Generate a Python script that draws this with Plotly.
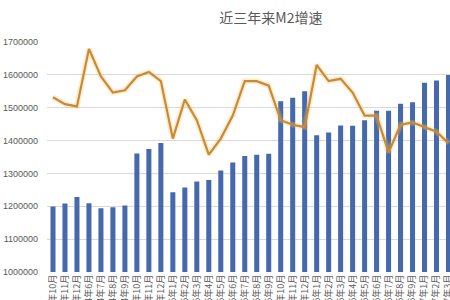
import plotly.graph_objects as go

months = ["2014年10月", "2014年11月", "2014年12月", "2014年6月", "2014年7月", "2014年8月", "2014年9月",
          "2015年10月", "2015年11月", "2015年12月", "2015年1月", "2015年2月", "2015年3月", "2015年4月",
          "2015年5月", "2015年6月", "2015年7月", "2015年8月", "2015年9月",
          "2016年10月", "2016年11月", "2016年12月", "2016年1月", "2016年2月", "2016年3月", "2016年4月",
          "2016年5月", "2016年6月", "2016年7月", "2016年8月", "2016年9月",
          "2017年1月", "2017年2月", "2017年3月"]

m2_balance = [1199200, 1208700, 1228400, 1209600, 1194100, 1197400, 1202100,
              1361000, 1374000, 1392300, 1242700, 1257400, 1275300, 1280000,
              1308600, 1333400, 1353200, 1356900, 1359800,
              1519500, 1530400, 1550100, 1416300, 1424600, 1446200, 1445000,
              1461700, 1490500, 1491000, 1512000, 1516400,
              1575900, 1582900, 1599600]

m2_growth = [12.6, 12.3, 12.2, 14.7, 13.5, 12.8, 12.9,
             13.5, 13.7, 13.3, 10.8, 12.5, 11.6, 10.1,
             10.8, 11.8, 13.3, 13.3, 13.1,
             11.6, 11.4, 11.3, 14.0, 13.3, 13.4, 12.8,
             11.8, 11.8, 10.2, 11.4, 11.5,
             11.3, 11.1, 10.6]

yticks = [1000000, 1100000, 1200000, 1300000, 1400000, 1500000, 1600000, 1700000]

fig = go.Figure()
fig.add_trace(go.Bar(x=months, y=m2_balance, marker=dict(color="#4569ab", line=dict(width=0)),
                     showlegend=False))
fig.add_trace(go.Scatter(x=months, y=m2_growth, yaxis="y2", mode="lines",
                         line=dict(color="rgba(245,195,100,0.3)", width=5.5), showlegend=False,
                         hoverinfo="skip"))
fig.add_trace(go.Scatter(x=months, y=m2_growth, yaxis="y2", mode="lines",
                         line=dict(color="#c98a35", width=2.2), showlegend=False))

fig.update_layout(
    width=450, height=300,
    margin=dict(l=47, r=0, t=42, b=28, pad=0),
    paper_bgcolor="white", plot_bgcolor="white",
    bargap=0.58,
    title=dict(text="近三年来M2增速", x=250/450, xref="paper", xanchor="center",
               y=1 - 18/300, yref="container", yanchor="middle",
               font=dict(family="Noto Sans CJK SC", size=14, color="#595959")),
    xaxis=dict(type="category", range=[-0.5, 33.125], tickangle=-90,
               tickfont=dict(family="Noto Sans CJK SC", size=9, color="#595959"),
               showgrid=False, showline=False, ticks="", automargin=False),
    yaxis=dict(range=[1000000, 1700000], tickvals=yticks, ticktext=[str(v) for v in yticks],
               tickfont=dict(family="Liberation Sans", size=9, color="#595959"),
               showgrid=True, gridcolor="#d9d9d9", gridwidth=1, zeroline=False,
               showline=False, ticks="", ticklabelstandoff=8, automargin=False),
    yaxis2=dict(range=[5, 15], overlaying="y", side="right", visible=False),
)

fig.write_html("out.html")
